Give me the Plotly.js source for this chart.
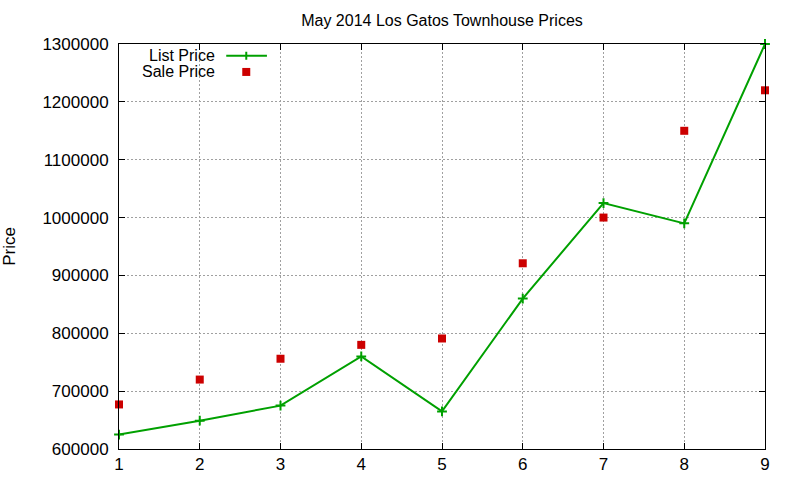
<!DOCTYPE html>
<html>
<head>
<meta charset="utf-8">
<script src="https://cdn.plot.ly/plotly-3.0.1.min.js"></script>
<style>
  html, body { margin: 0; padding: 0; background: #fff; }
  #chart { width: 800px; height: 480px; }
</style>
</head>
<body>
<div id="chart"></div>
<script>
// May 2014 Los Gatos townhouse prices, gnuplot look
const houses = [1, 2, 3, 4, 5, 6, 7, 8, 9];
const listPrice = [625000, 649000, 675000, 760000, 665000, 860000, 1025000, 990000, 1300000];
const salePrice = [677000, 720000, 756000, 780000, 791000, 921000, 1000000, 1150000, 1220000];
const seriesNames = ['List Price', 'Sale Price'];

const GREEN = '#00a000';
const RED = '#cc0000';
const FONT = 'Liberation Sans, Arial, sans-serif';

const listTrace = {
  x: houses, y: listPrice, name: seriesNames[0],
  mode: 'lines+markers', type: 'scatter',
  line: { color: GREEN, width: 2 },
  marker: { symbol: 'cross-thin', size: 7, line: { color: GREEN, width: 2 } },
  cliponaxis: false
};
const saleTrace = {
  x: houses, y: salePrice, name: seriesNames[1],
  mode: 'markers', type: 'scatter',
  marker: { symbol: 'square', size: 8, color: RED },
  cliponaxis: false
};

const axisCommon = {
  showline: true, linecolor: '#000', linewidth: 1, mirror: 'allticks',
  ticks: 'inside', ticklen: 6, tickcolor: '#000', tickwidth: 1,
  showgrid: true, gridcolor: '#a0a0a0', griddash: '2px,2px', gridwidth: 1,
  zeroline: false, tickfont: { family: FONT, size: 17, color: '#000' }
};

// legend drawn gnuplot-style: text right aligned, sample to the right
const legX = 0.152, legY1 = 0.971, legY2 = 0.931;
const sampleX0 = 0.166, sampleX1 = 0.229, sampleMid = 0.197;

const layout = {
  width: 800, height: 480,
  margin: { l: 119, r: 35, t: 44, b: 31 },
  paper_bgcolor: '#fff', plot_bgcolor: '#fff',
  showlegend: false,
  title: {
    text: 'May 2014 Los Gatos Townhouse Prices',
    font: { family: FONT, size: 16, color: '#000' },
    x: 0.5, xref: 'paper', y: 1 - 20 / 480, yref: 'container', yanchor: 'middle'
  },
  xaxis: Object.assign({}, axisCommon, {
    range: [1, 9], dtick: 1, tick0: 1, ticklabelstandoff: 0
  }),
  yaxis: Object.assign({}, axisCommon, {
    range: [600000, 1300000], dtick: 100000, tickformat: 'd', ticklabelstandoff: 6,
    title: { text: 'Price', standoff: 22, font: { family: FONT, size: 17, color: '#000' } }
  }),
  annotations: [
    { text: seriesNames[0], xref: 'paper', yref: 'paper', x: legX, y: legY1,
      xanchor: 'right', yanchor: 'middle', showarrow: false,
      font: { family: FONT, size: 16, color: '#000' } },
    { text: seriesNames[1], xref: 'paper', yref: 'paper', x: legX, y: legY2,
      xanchor: 'right', yanchor: 'middle', showarrow: false,
      font: { family: FONT, size: 16, color: '#000' } }
  ],
  shapes: [
    { type: 'line', xref: 'paper', yref: 'paper', x0: sampleX0, x1: sampleX1, y0: legY1, y1: legY1,
      line: { color: GREEN, width: 2 } },
    { type: 'line', xref: 'paper', yref: 'paper', xsizemode: 'pixel', ysizemode: 'pixel',
      xanchor: sampleMid, yanchor: legY1, x0: 0, x1: 0, y0: -4, y1: 4,
      line: { color: GREEN, width: 2 } },
    { type: 'rect', xref: 'paper', yref: 'paper', xsizemode: 'pixel', ysizemode: 'pixel',
      xanchor: sampleMid, yanchor: legY2, x0: -4, x1: 4, y0: -4, y1: 4,
      fillcolor: RED, line: { width: 0 } }
  ]
};

Plotly.newPlot('chart', [listTrace, saleTrace], layout, { displayModeBar: false, staticPlot: true });
</script>
</body>
</html>
